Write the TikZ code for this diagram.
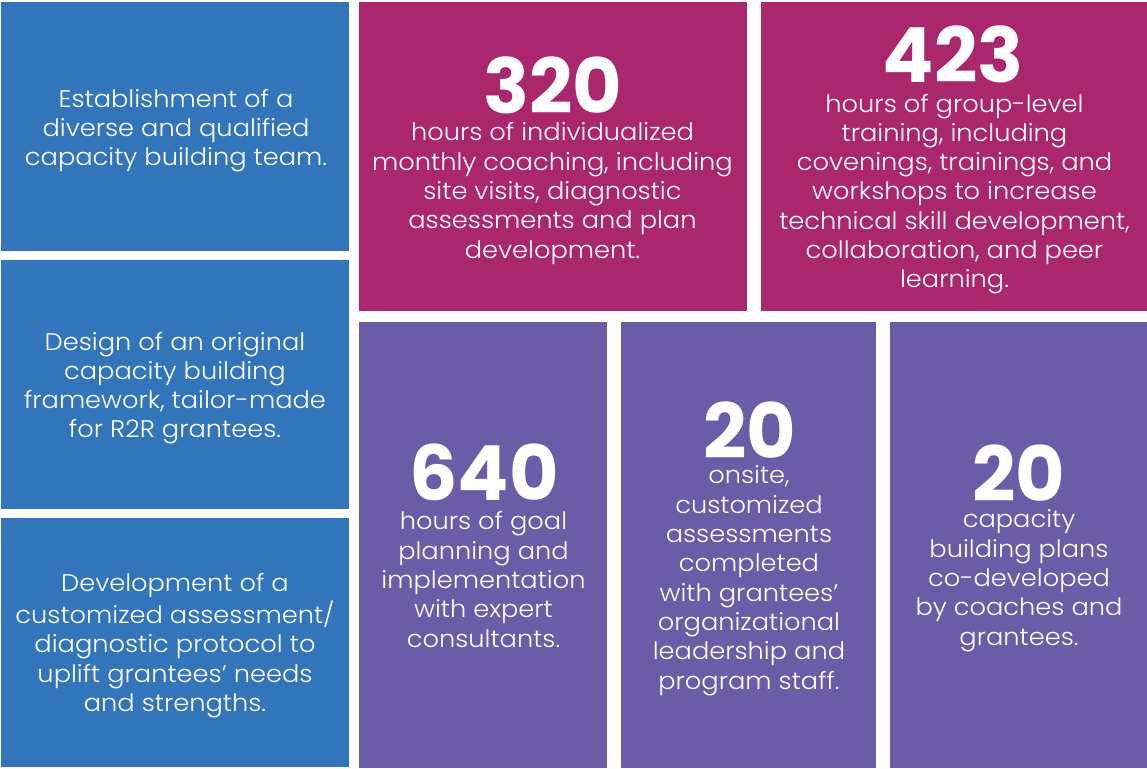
\documentclass[tikz,border=0pt]{standalone}
\usepackage{fontspec}
\setmainfont{Poppins}[UprightFont=* Light, FakeStretch=1.07]
\newfontfamily\numfont{Poppins}
\definecolor{cblue}{HTML}{3375BA}
\definecolor{cmag}{HTML}{AA276D}
\definecolor{cpur}{HTML}{6A5CA6}
\tikzset{
  card/.style={rectangle, inner sep=0pt, outer sep=0pt, draw=none},
  body/.style={text=white, align=center, inner sep=0pt, font=\fontsize{24}{29.3}\selectfont},
  big/.style={text=white, inner sep=0pt, font=\numfont\fontsize{76}{76}\selectfont\bfseries},
}
\newcommand{\mycard}[6]{%
  \node[card, fill=#2, minimum width=#5pt-#3pt, minimum height=#6pt-#4pt]
    (#1) at ({(#3+#5)/2},{(#4+#6)/2}) {};}
\begin{document}
\begin{tikzpicture}[x=1pt,y=-1pt]
\useasboundingbox (0,0) rectangle (1147,768);
% blue column
\mycard{b1}{cblue}{1}{2}{349}{250.7}
\mycard{b2}{cblue}{1}{260}{349}{509}
\mycard{b3}{cblue}{1}{518}{349}{767}
% magenta
\mycard{m1}{cmag}{359}{2}{746.7}{310.7}
\mycard{m2}{cmag}{761}{2}{1147}{310.7}
% purple
\mycard{p1}{cpur}{359}{321.7}{606.7}{768}
\mycard{p2}{cpur}{621}{321.7}{876}{768}
\mycard{p3}{cpur}{890}{321.7}{1147}{768}

\node[body] (tb1) at (176,130.6) {\strut Establishment of a\\diverse and qualified\\capacity building team.\strut};
\node[body] (tb2) at (175,388.1) {\strut Design of an original\\capacity building\\framework, tailor-made\\for R2R grantees.\strut};
\node[body] (tb3) at (175,645.6) {\strut Development of a\\customized assessment/\\diagnostic protocol to\\uplift grantees’ needs\\and strengths.\strut};

\node[big] (n1) at (552.5,85) {320};
\node[body] (tm1) at (552.5,193.6) {\strut hours of individualized\\monthly coaching, including\\site visits, diagnostic\\assessments and plan\\development.\strut};

\node[big] (n2) at (953,54) {423};
\node[body] (tm2) at (954.5,194.1) {\strut hours of group-level\\training, including\\covenings, trainings, and\\workshops to increase\\technical skill development,\\collaboration, and peer\\learning.\strut};

\node[big] (n3) at (484,472) {640};
\node[body] (tp1) at (483.5,582.6) {\strut hours of goal\\planning and\\implementation\\with expert\\consultants.\strut};

\node[big] (n4) at (750,430) {20};
\node[body] (tp2) at (749,580.6) {\strut onsite,\\customized\\assessments\\completed\\with grantees’\\organizational\\leadership and\\program staff.\strut};

\node[big] (n5) at (1019,473) {20};
\node[body] (tp3) at (1019,580.6) {\strut capacity\\building plans\\co-developed\\by coaches and\\grantees.\strut};
\end{tikzpicture}
\end{document}
